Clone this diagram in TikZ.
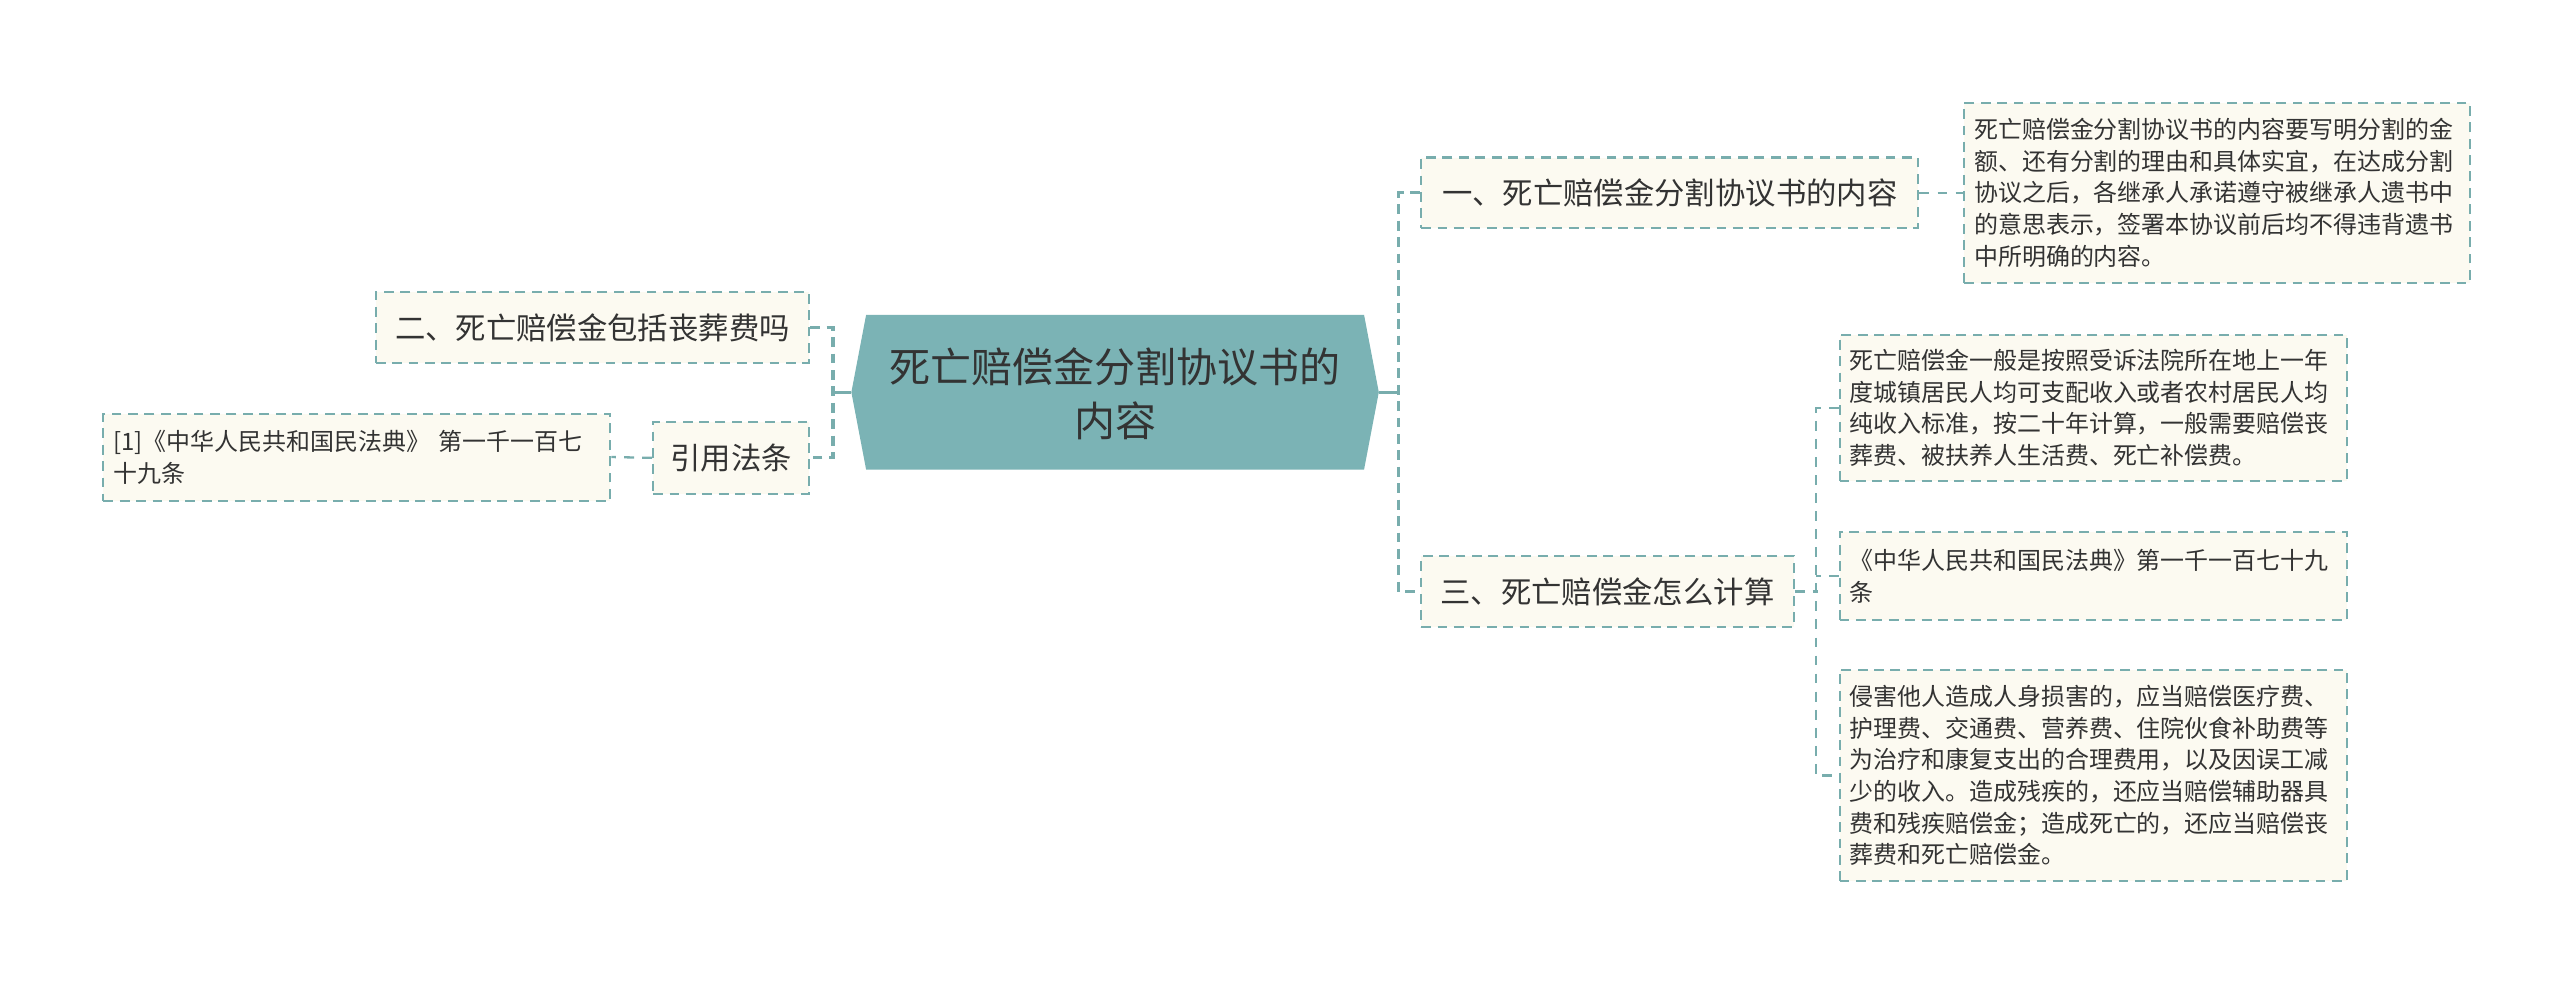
\documentclass[tikz,border=0pt]{standalone}
\usepackage{fontspec}
\setmainfont{Noto Sans CJK SC}
\usetikzlibrary{calc}
\definecolor{teal1}{HTML}{7BB3B5}
\definecolor{line1}{HTML}{78ADAD}
\definecolor{cream}{HTML}{FCFAF1}
\definecolor{txt}{HTML}{333333}
\tikzset{
  lvlbox/.style={draw=line1, line width=1.3pt, dash pattern=on 6pt off 4pt, fill=cream,
    text=txt, inner sep=0pt, font=\fontsize{18.5}{22}\selectfont, anchor=center},
  detbox/.style={draw=line1, line width=1.2pt, dash pattern=on 6pt off 4pt, fill=cream,
    text=txt, inner xsep=6pt, inner ysep=0pt, align=left,
    font=\fontsize{14.6}{19.3}\selectfont, anchor=center},
  conn1/.style={draw=line1, line width=2pt, dash pattern=on 6pt off 4pt},
  conn2/.style={draw=line1, line width=1.4pt, dash pattern=on 6pt off 5pt},
  solidc/.style={draw=line1, line width=2pt},
}
\begin{document}
\begin{tikzpicture}[x=1pt,y=-1pt]
\useasboundingbox (0,0) rectangle (1560,597.2);
\fill[white] (0,0) rectangle (1560,597.2);
% center
\node[minimum width=303pt, minimum height=94pt, inner sep=0pt] (c) at (679.5,239) {};
\fill[teal1] (c.north west) -- (c.north east) -- ($(c.east)+(9,0)$) -- (c.south east)
  -- (c.south west) -- ($(c.west)+(-9,0)$) -- cycle;
\coordinate (ce) at ($(c.east)+(9,0)$);
\coordinate (cw) at ($(c.west)+(-9,0)$);
\node[text=txt, align=center, font=\fontsize{25}{33}\selectfont] (ct) at (679.5,240) {死亡赔偿金分割协议书的\\内容};
% level 1 boxes
\node[lvlbox, minimum width=303pt, minimum height=43pt] (b1) at (1017.5,117.5) {一、死亡赔偿金分割协议书的内容};
\node[lvlbox, minimum width=227pt, minimum height=43pt] (b3) at (979.5,360.5) {三、死亡赔偿金怎么计算};
\node[lvlbox, minimum width=264pt, minimum height=43pt] (b2) at (361,199.5) {二、死亡赔偿金包括丧葬费吗};
\node[lvlbox, minimum width=95pt, minimum height=44pt] (b4) at (445.5,279) {引用法条};
% detail boxes
\node[detbox, text width=296pt, minimum height=110pt] (d1) at (1351,117.5) {死亡赔偿金分割协议书的内容要写明分割的金\\额、还有分割的理由和具体实宜，在达成分割\\协议之后，各继承人承诺遵守被继承人遗书中\\的意思表示，签署本协议前后均不得违背遗书\\中所明确的内容。};
\node[detbox, text width=297pt, minimum height=89pt] (dA) at (1275.5,248.5) {死亡赔偿金一般是按照受诉法院所在地上一年\\度城镇居民人均可支配收入或者农村居民人均\\纯收入标准，按二十年计算，一般需要赔偿丧\\葬费、被扶养人生活费、死亡补偿费。};
\node[detbox, text width=297pt, minimum height=54pt] (dB) at (1275.5,351) {《中华人民共和国民法典》第一千一百七十九\\条};
\node[detbox, text width=297pt, minimum height=129pt] (dC) at (1275.5,472.5) {侵害他人造成人身损害的，应当赔偿医疗费、\\护理费、交通费、营养费、住院伙食补助费等\\为治疗和康复支出的合理费用，以及因误工减\\少的收入。造成残疾的，还应当赔偿辅助器具\\费和残疾赔偿金；造成死亡的，还应当赔偿丧\\葬费和死亡赔偿金。};
\node[detbox, text width=297pt, minimum height=53pt] (dR) at (217.5,278.5) {[1]《中华人民共和国民法典》 第一千一百七\\十九条};
% connectors right
\draw[solidc] (ce) -- ++(13,0) coordinate (jr);
\draw[conn1] (b1.west) -- ++(-13,0) |- (b3.west);
\draw[conn2] (b1.east) -- (d1.west);
\draw[conn2] (b3.east) -- ++(14,0);
\draw[conn2] (dA.west) -- ++(-14,0) |- (dC.west);
\draw[conn2] (dB.west) -- ++(-14,0);
% connectors left
\draw[solidc] (cw) -- ++(-12,0) coordinate (jl);
\draw[conn1] (b2.east) -- ++(14,0) |- (b4.east);
\draw[conn2] (b4.west) -- (dR.east);
\end{tikzpicture}
\end{document}
